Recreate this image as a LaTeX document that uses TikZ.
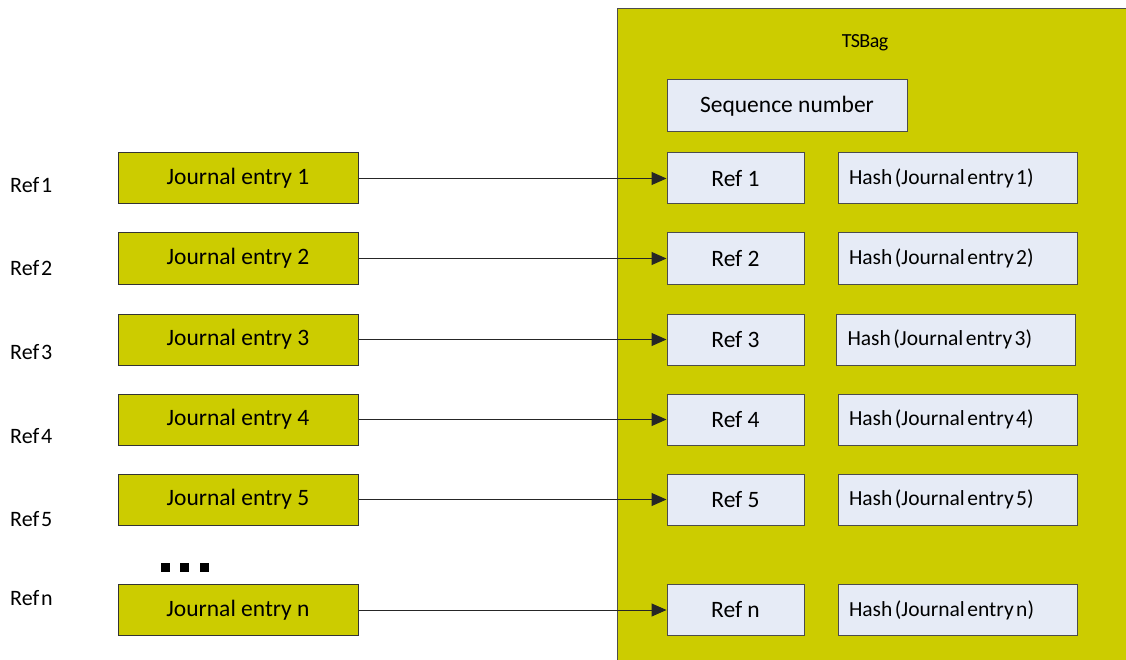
\documentclass[tikz,border=0pt]{standalone}
\usepackage{fontspec}
\setmainfont{Carlito}
\newfontfamily\titlefont[LetterSpace=-3]{Carlito}
\usetikzlibrary{arrows.meta}
\definecolor{olive}{RGB}{204,204,0}
\definecolor{paleblue}{RGB}{230,235,246}
\newcommand{\tsp}{\hspace{2.5pt}}
\tikzset{
  jbox/.style={draw=black!80, line width=1pt, fill=olive, minimum width=240pt, minimum height=51pt, inner sep=0pt, font=\fontsize{23.5}{28}\selectfont},
  rbox/.style={draw=black!70, line width=1pt, fill=paleblue, minimum width=137pt, minimum height=51pt, inner sep=0pt, font=\fontsize{23.5}{28}\selectfont},
  hbox/.style={draw=black!70, line width=1pt, fill=paleblue, minimum height=51pt, inner ysep=0pt, inner xsep=11pt, text width=217pt, align=left, font=\fontsize{21.5}{26}\selectfont},
  lbl/.style={anchor=west, inner sep=0pt, font=\fontsize{22}{26}\selectfont},
  conn/.style={draw=black!85, line width=1pt, -{Triangle[length=15pt,width=13pt]}},
  dotsq/.style={fill=black, minimum size=9pt, inner sep=0pt}
}
\begin{document}
\begin{tikzpicture}[x=1pt,y=-1pt]
\useasboundingbox (0,0) rectangle (1126,660);
\node[draw=black!70, line width=1pt, fill=olive, anchor=north west, minimum width=512pt, minimum height=660pt, inner sep=0pt] (bag) at (617,8) {};
\node[font=\titlefont\fontsize{20}{24}\selectfont] (title) at (865,43) {TSBag};
\node[rbox, minimum width=240pt, minimum height=52pt] (seq) at (787,106) {Sequence number};
% rows
\foreach \i/\y/\ly/\hx in {1/178.5/185/957.5, 2/258.5/268/957.5, 3/339.5/352/956, 4/419.5/436/957.5, 5/499.5/519/957.5, n/610/598/957.5} {
  \node[jbox] (j\i) at (238,\y) {Journal entry \i};
  \node[rbox] (r\i) at (735.5,\y) {Ref \i};
  \node[hbox] (h\i) at (\hx,\y) {Hash\tsp(Journal\tsp entry\tsp\i)};
  \node[lbl] (l\i) at (10,\ly) {Ref\hspace{2pt}\i};
  \draw[conn] (j\i) -- (r\i);
}
\node[dotsq] (d1) at (165.5,567) {};
\node[dotsq] (d2) at (184.5,567) {};
\node[dotsq] (d3) at (204,567) {};
\end{tikzpicture}
\end{document}
